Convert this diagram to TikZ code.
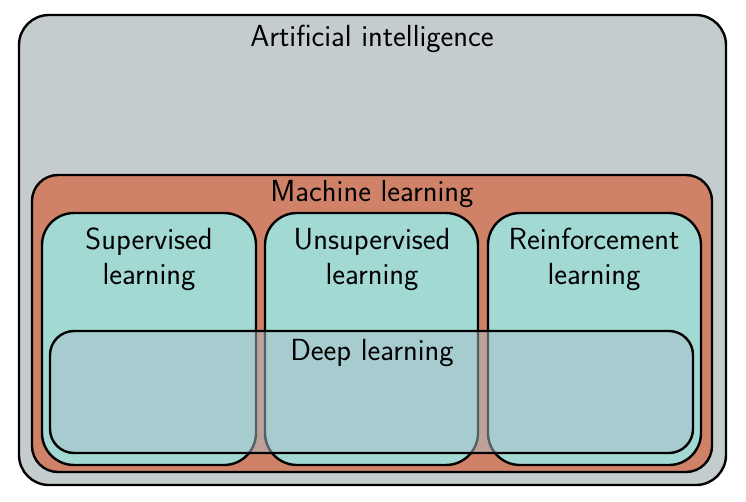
\documentclass[tikz,border=0pt]{standalone}
\usepackage{fontspec}
\usepackage{tikz}
\definecolor{aigrey}{RGB}{197,204,206}
\definecolor{mlorange}{RGB}{208,130,104}
\definecolor{subteal}{RGB}{163,217,211}
\definecolor{deepblue}{RGB}{171,193,205}
\begin{document}
\begin{tikzpicture}[x=1pt,y=-1pt,
  box/.style={draw=black,line width=2.4pt,rounded corners=#1},
  lbl/.style={font=\sffamily\fontsize{30.5}{35}\selectfont,align=center,inner sep=0pt}]
\useasboundingbox (0,0) rectangle (746,502);
\draw[box=30pt,fill=aigrey] (19,15) rectangle (726,485);
\draw[box=26pt,fill=mlorange] (32,175) rectangle (712,472);
\draw[box=32pt,fill=subteal] (42,213) rectangle (256,465);
\draw[box=32pt,fill=subteal] (265,213) rectangle (478,465);
\draw[box=32pt,fill=subteal] (488,213) rectangle (701,465);
\draw[box=24pt,fill=deepblue,fill opacity=0.5] (50,331) rectangle (693,453);
\node[lbl,anchor=base] (ai) at (372,47) {Artificial intelligence};
\node[lbl,anchor=base] (ml) at (372,202) {Machine learning};
\node[lbl,anchor=base] (sl) at (149,284) {Supervised\\learning};
\node[lbl,anchor=base] (ul) at (372,284) {Unsupervised\\learning};
\node[lbl,anchor=base] (rl) at (594,284) {Reinforcement\\learning};
\node[lbl,anchor=base] (dl) at (372,360) {Deep learning};
\end{tikzpicture}
\end{document}
